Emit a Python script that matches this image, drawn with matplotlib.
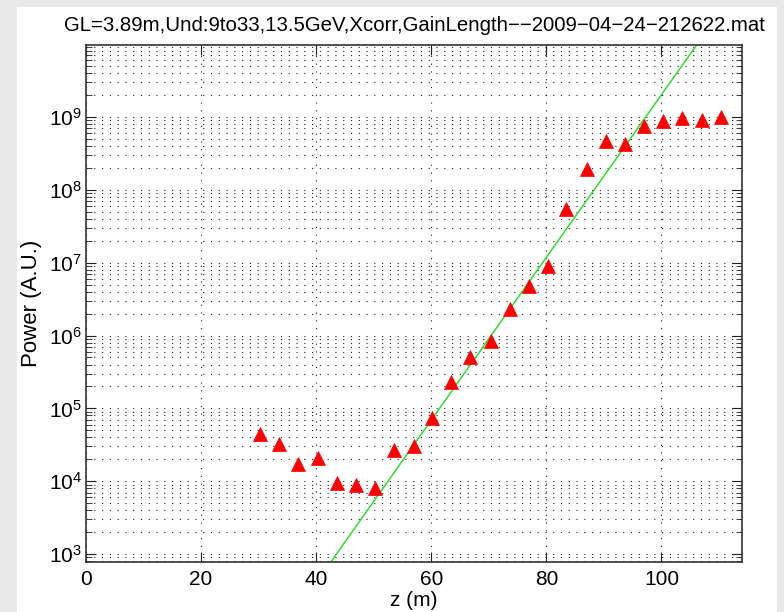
import matplotlib
matplotlib.use("Agg")
import matplotlib.pyplot as plt
from matplotlib.patches import Rectangle
from matplotlib.ticker import LogLocator, NullFormatter, MultipleLocator

plt.rcParams['font.family'] = ['Liberation Sans', 'DejaVu Sans']

# undulator position (m) and measured FEL power
z = [30.2, 33.5, 36.8, 40.3, 43.6, 46.9, 50.2, 53.5, 57.0, 60.2, 63.5, 66.8, 70.4,
     73.6, 76.9, 80.2, 83.5, 87.0, 90.3, 93.6, 96.9, 100.3, 103.6, 107.1, 110.4]
power = [4.4e4, 3.2e4, 1.7e4, 2.1e4, 9.5e3, 8.9e3, 8.0e3, 2.7e4, 3.0e4, 7.3e4,
         2.3e5, 5.0e5, 8.5e5, 2.3e6, 4.8e6, 9.1e6, 5.4e7, 1.9e8, 4.6e8, 4.3e8,
         7.5e8, 8.9e8, 9.6e8, 9.1e8, 1.0e9]

# exponential gain fit (end points of the line)
fit_z = [30.0, 112.0]
fit_power = [3.1e1, 4.4e10]

y_decades = [1e3, 1e4, 1e5, 1e6, 1e7, 1e8, 1e9]

title = 'GL=3.89m,Und:9to33,13.5GeV,Xcorr,GainLength\u2212\u22122009\u221204\u221224\u2212212622.mat'

fig = plt.figure(figsize=(7.84, 6.12), dpi=100, facecolor='#e9e9e9')
fig.patches.append(Rectangle((17 / 784, 0), 760 / 784, 605 / 612, transform=fig.transFigure,
                             facecolor='white', edgecolor='none', zorder=-1))

ax = fig.add_axes([86 / 784, 50 / 612, 656 / 784, 517 / 612])
ax.set_yscale('log')

ax.plot(fit_z, fit_power, color='#2ee02e', lw=1.1, zorder=2)
ax.plot(z, power, linestyle='none', marker='^', color='red', markersize=10,
        markeredgewidth=0.5, zorder=3)

ax.set_xlim(0, 114)
ax.set_ylim(7.8e2, 9.7e9)
ax.xaxis.set_major_locator(MultipleLocator(20))
ax.set_yticks(y_decades)
ax.yaxis.set_minor_locator(LogLocator(base=10, subs=range(2, 10), numticks=20))
ax.yaxis.set_minor_formatter(NullFormatter())

dots = (0, (1, 6))
ax.grid(True, which='major', axis='both', linestyle=dots, lw=0.8, color='#222222')
ax.grid(True, which='minor', axis='y', linestyle=dots, lw=0.8, color='#222222')

ax.tick_params(which='both', direction='in', top=True, right=True, labelsize=15, color='#222222')
ax.tick_params(which='major', length=7, width=0.8)
ax.tick_params(which='minor', length=4, width=0.6)
ax.tick_params(axis='x', which='major', pad=6)
ax.tick_params(axis='y', which='major', pad=3)
for s in ax.spines.values():
    s.set_color('#333333')
    s.set_linewidth(1.2)

ax.set_xlabel('z (m)', fontsize=15, labelpad=1)
ax.set_ylabel('Power (A.U.)', fontsize=16, labelpad=5)
ax.set_title(title, fontsize=14.7, pad=10)

fig.savefig('out.png', dpi=100, facecolor=fig.get_facecolor())
